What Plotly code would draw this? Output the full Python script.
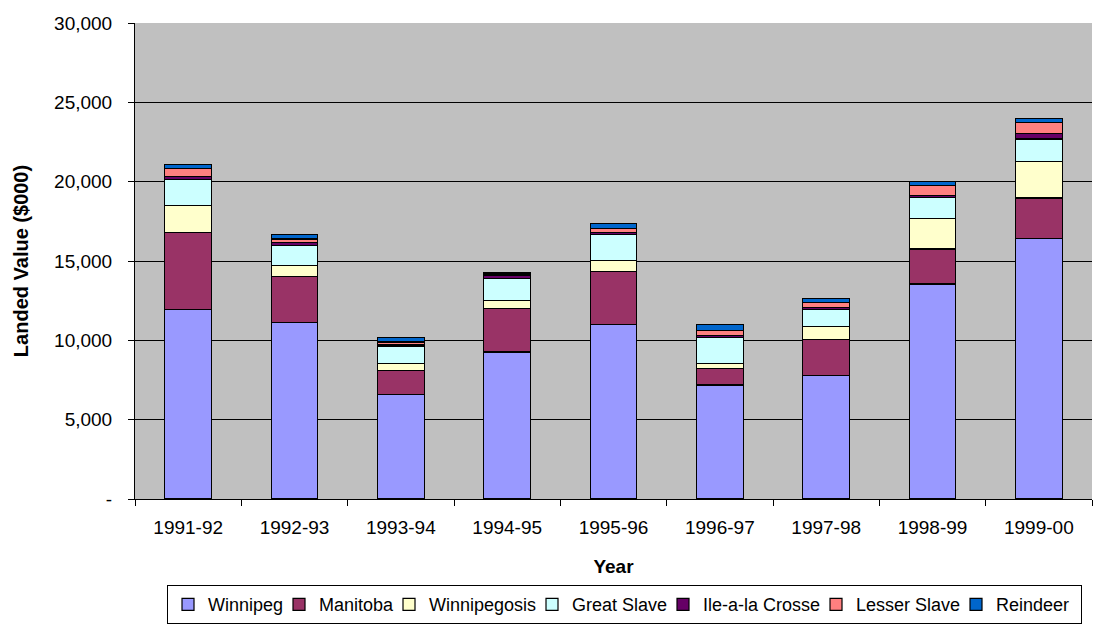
import plotly.graph_objects as go

years = ["1991-92", "1992-93", "1993-94", "1994-95", "1995-96", "1996-97", "1997-98", "1998-99", "1999-00"]

winnipeg = [11930, 11130, 6600, 9260, 10980, 7190, 7760, 13550, 16430]
manitoba = [4860, 2880, 1520, 2770, 3340, 1010, 2270, 2210, 2540]
winnipegosis = [1720, 720, 440, 460, 690, 340, 820, 1930, 2290]
great_slave = [1620, 1240, 1050, 1390, 1640, 1640, 1070, 1300, 1430]
ile_a_la_crosse = [210, 210, 100, 210, 170, 120, 150, 130, 340]
lesser_slave = [500, 210, 190, 80, 230, 340, 300, 650, 700]
reindeer = [230, 280, 290, 80, 300, 360, 250, 250, 250]

series_names = ["Winnipeg", "Manitoba", "Winnipegosis", "Great Slave", "Ile-a-la Crosse", "Lesser Slave", "Reindeer"]
series_values = [winnipeg, manitoba, winnipegosis, great_slave, ile_a_la_crosse, lesser_slave, reindeer]
series_colors = ["#9999FF", "#993366", "#FFFFCC", "#CCFFFF", "#660066", "#FF8080", "#0066CC"]
# legend entry widths (px) to keep the legend as compact as the original
legend_widths = [66, 65, 98, 86, 108, 95, 80]

y_tick_vals = [0, 5000, 10000, 15000, 20000, 25000, 30000]
y_tick_text = ["-", "5,000", "10,000", "15,000", "20,000", "25,000", "30,000"]

font_family = "Liberation Sans, Arial, sans-serif"

fig = go.Figure()
for name, vals, col, lw in zip(series_names, series_values, series_colors, legend_widths):
    fig.add_trace(go.Bar(
        x=years, y=vals, name=name,
        marker=dict(color=col, line=dict(color="#000000", width=1.2)),
        legendwidth=lw,
    ))

# page body has an 8px margin, so the figure is offset by 8px
fig.update_layout(
    barmode="stack",
    bargap=0.56,
    width=1098, height=616,
    margin=dict(l=127, r=14, t=15, b=125, autoexpand=False),
    paper_bgcolor="#FFFFFF",
    plot_bgcolor="#C0C0C0",
    font=dict(family=font_family, size=19, color="#000000"),
    showlegend=True,
    legend=dict(
        orientation="h",
        x=0.5115, xanchor="center",
        y=-0.181, yanchor="top",
        bordercolor="#000000", borderwidth=1,
        bgcolor="#FFFFFF",
        font=dict(family=font_family, size=18),
        traceorder="normal",
        itemwidth=30,
    ),
    xaxis=dict(
        showline=True, linecolor="#000000", linewidth=1,
        ticks="outside", ticklen=6, tickcolor="#000000",
        tickson="boundaries",
        tickfont=dict(size=19),
        ticklabelstandoff=11,
        automargin=False,
        title=dict(text="<b>Year</b>", font=dict(size=19), standoff=22),
    ),
    yaxis=dict(
        range=[0, 30000],
        tickvals=y_tick_vals, ticktext=y_tick_text,
        showline=True, linecolor="#000000", linewidth=1,
        ticks="outside", ticklen=6, tickcolor="#000000",
        showgrid=True, gridcolor="#000000", gridwidth=1,
        zeroline=False,
        tickfont=dict(size=19),
        ticklabelstandoff=12,
        automargin=False,
        title=dict(text="<b>Landed Value ($000)</b>", font=dict(size=20), standoff=20),
    ),
)

fig.write_html("out.html")
